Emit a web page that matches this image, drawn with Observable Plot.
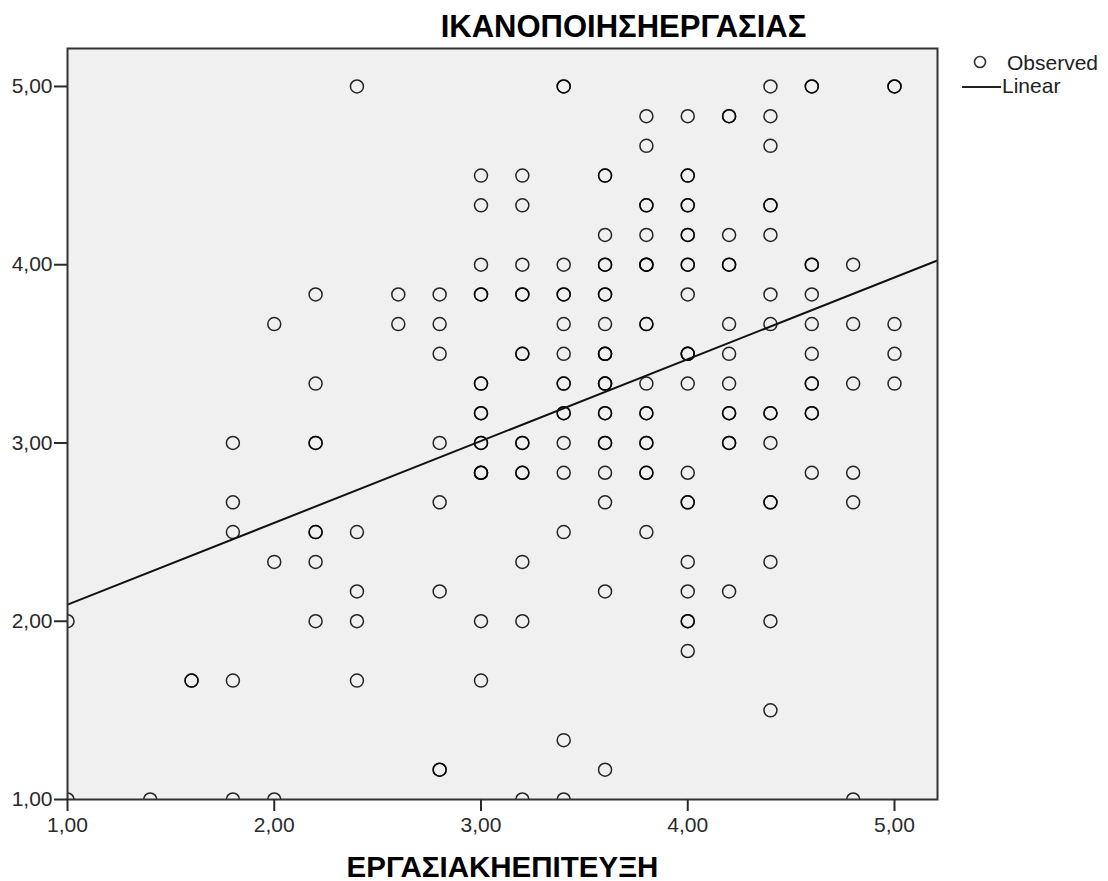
<!DOCTYPE html>
<html>
<head>
<meta charset="utf-8">
<script src="https://cdn.jsdelivr.net/npm/d3@7"></script>
<script src="https://cdn.jsdelivr.net/npm/@observablehq/plot@0.6"></script>
<style>
  body { margin: 0; background: #fff; }
  #wrap { position: relative; width: 1108px; height: 881px; font-family: "Liberation Sans", Arial, sans-serif; }
  #legend { position: absolute; left: 0; top: 0; pointer-events: none; }
</style>
</head>
<body>
<div id="wrap"></div>
<script>
// ---- Data ----
const chartTitle = "ΙΚΑΝΟΠΟΙΗΣΗΕΡΓΑΣΙΑΣ";
const xAxisLabel = "ΕΡΓΑΣΙΑΚΗΕΠΙΤΕΥΞΗ";
const legendLabels = ["Observed", "Linear"];

const xTicks = [1, 2, 3, 4, 5];
const yTicks = [1, 2, 3, 4, 5];

// ΙΚΑΝΟΠΟΙΗΣΗΕΡΓΑΣΙΑΣ levels (y) and the ΕΡΓΑΣΙΑΚΗΕΠΙΤΕΥΞΗ values (x) observed at each level
// (repeated x values = overlapping observations, drawn darker)
const yLevels = [5.000, 4.833, 4.667, 4.500, 4.333, 4.167, 4.000, 3.833, 3.667, 3.500, 3.333, 3.167,
                 3.000, 2.833, 2.667, 2.500, 2.333, 2.167, 2.000, 1.833, 1.667, 1.500, 1.333, 1.167, 1.000];
const xAtLevel = [
  [2.4, 3.4, 3.4, 4.4, 4.6, 4.6, 5.0, 5.0],
  [3.8, 4.0, 4.2, 4.2, 4.4],
  [3.8, 4.4],
  [3.0, 3.2, 3.6, 3.6, 4.0, 4.0],
  [3.0, 3.2, 3.8, 3.8, 4.0, 4.0, 4.4, 4.4],
  [3.6, 3.8, 4.0, 4.0, 4.2, 4.4],
  [3.0, 3.2, 3.4, 3.6, 3.6, 3.8, 3.8, 3.8, 4.0, 4.0, 4.2, 4.2, 4.6, 4.6, 4.8],
  [2.2, 2.6, 2.8, 3.0, 3.0, 3.2, 3.2, 3.4, 3.4, 3.6, 3.6, 4.0, 4.4, 4.6],
  [2.0, 2.6, 2.8, 3.4, 3.6, 3.8, 3.8, 4.2, 4.4, 4.6, 4.8, 5.0],
  [2.8, 3.2, 3.2, 3.4, 3.6, 3.6, 3.6, 4.0, 4.0, 4.0, 4.2, 4.6, 5.0],
  [2.2, 3.0, 3.0, 3.4, 3.4, 3.6, 3.6, 3.6, 3.8, 4.0, 4.2, 4.6, 4.6, 4.8, 5.0],
  [3.0, 3.0, 3.4, 3.4, 3.6, 3.6, 3.8, 3.8, 4.2, 4.2, 4.4, 4.4, 4.6, 4.6],
  [1.8, 2.2, 2.2, 2.8, 3.0, 3.0, 3.2, 3.2, 3.4, 3.6, 3.6, 3.8, 3.8, 4.2, 4.2, 4.4],
  [3.0, 3.0, 3.0, 3.2, 3.2, 3.4, 3.6, 3.8, 3.8, 4.0, 4.6, 4.8],
  [1.8, 2.8, 3.6, 4.0, 4.0, 4.4, 4.4, 4.8],
  [1.8, 2.2, 2.2, 2.4, 3.4, 3.8],
  [2.0, 2.2, 3.2, 4.0, 4.4],
  [2.4, 2.8, 3.6, 4.0, 4.2],
  [1.0, 2.2, 2.4, 3.0, 3.2, 4.0, 4.0, 4.4],
  [4.0],
  [1.6, 1.6, 1.8, 2.4, 3.0],
  [4.4],
  [3.4],
  [2.8, 2.8, 3.6],
  [1.0, 1.4, 1.8, 2.0, 3.2, 3.4, 4.8]
];

// Linear fit
const fitIntercept = 1.634;
const fitSlope = 0.459;

const xDomain = [1, 5.208];
const yDomain = [1, 5.213];

// ---- Build tables ----
const observed = yLevels.flatMap((y, i) => xAtLevel[i].map(x => ({x, y})));
const fitLine = xDomain.map(x => ({x, y: fitIntercept + fitSlope * x}));
const fmt = d => d.toFixed(2).replace(".", ",");

const FONT = '"Liberation Sans", Arial, sans-serif';

const chart = Plot.plot({
  width: 1108,
  height: 881,
  marginLeft: 67,
  marginRight: 171,
  marginTop: 48,
  marginBottom: 82,
  style: { fontFamily: FONT, fontSize: "21px", color: "#2a2a2a", background: "#fff" },
  x: { domain: xDomain, label: null },
  y: { domain: yDomain, label: null },
  marks: [
    Plot.frame({ fill: "#f0f0f0", stroke: null }),
    Plot.dot(observed, { x: "x", y: "y", r: 6.5, stroke: "#000", strokeOpacity: 0.85, strokeWidth: 1.5, fill: "none", clip: "frame" }),
    Plot.line(fitLine, { x: "x", y: "y", stroke: "#111", strokeWidth: 2, clip: "frame" }),
    Plot.frame({ stroke: "#333", strokeWidth: 2 }),
    Plot.axisX({ ticks: xTicks, tickFormat: fmt, tickSize: 12, tickPadding: 6, strokeWidth: 2, label: null }),
    Plot.axisY({ ticks: yTicks, tickFormat: fmt, tickSize: 13, tickPadding: 2, strokeWidth: 2, label: null }),
    Plot.text([chartTitle], { text: d => d, frameAnchor: "top", dx: 121, dy: -12, lineAnchor: "bottom",
      fontWeight: "bold", fontSize: 31, fill: "#000", fontFamily: FONT, letterSpacing: "0.5px" }),
    Plot.text([xAxisLabel], { text: d => d, frameAnchor: "bottom", dy: 77, lineAnchor: "bottom",
      fontWeight: "bold", fontSize: 29.5, fill: "#000", fontFamily: FONT })
  ]
});

const wrap = document.getElementById("wrap");
wrap.appendChild(chart);

// ---- Legend (HTML/SVG overlay at the right of the plot) ----
const leg = d3.select(wrap).append("svg")
  .attr("id", "legend").attr("width", 1108).attr("height", 881);
leg.append("circle").attr("cx", 980).attr("cy", 62).attr("r", 5.5)
  .attr("fill", "none").attr("stroke", "#333").attr("stroke-width", 1.6);
leg.append("text").attr("x", 1007).attr("y", 70).text(legendLabels[0])
  .attr("font-family", FONT).attr("font-size", 21).attr("fill", "#222");
leg.append("line").attr("x1", 962).attr("x2", 1001).attr("y1", 87).attr("y2", 87)
  .attr("stroke", "#222").attr("stroke-width", 2);
leg.append("text").attr("x", 1002).attr("y", 93).text(legendLabels[1])
  .attr("font-family", FONT).attr("font-size", 21).attr("fill", "#222");
</script>
</body>
</html>
